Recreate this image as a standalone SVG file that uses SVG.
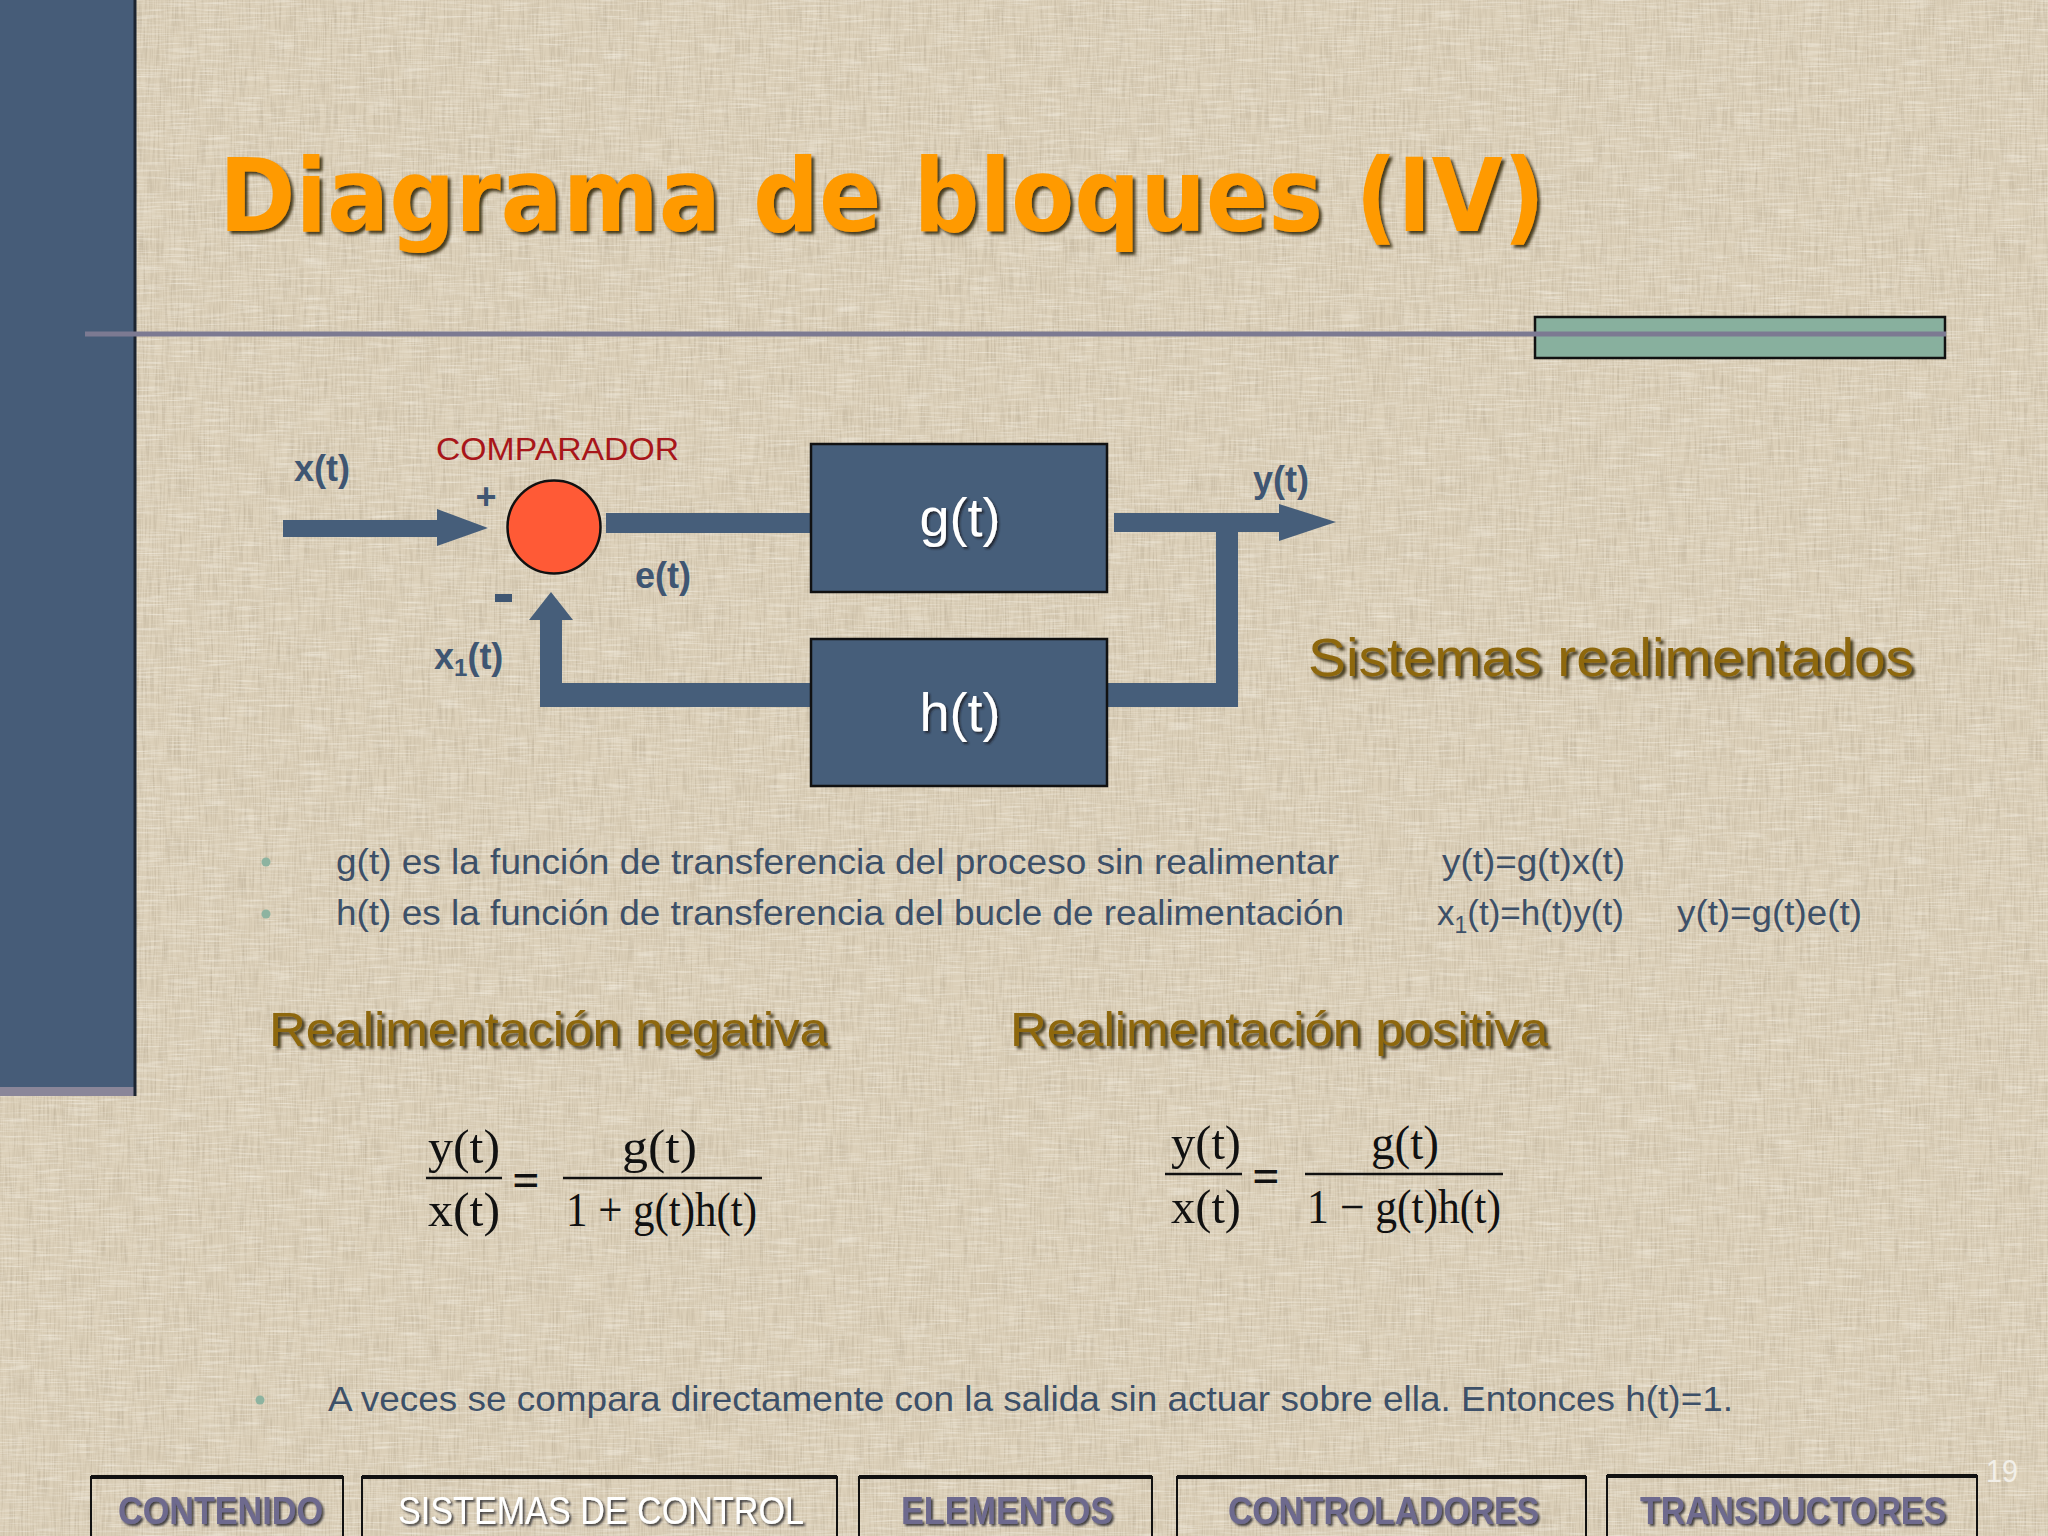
<svg xmlns="http://www.w3.org/2000/svg" width="2048" height="1536" viewBox="0 0 2048 1536">
<defs>
<style>
.sans{font-family:"Liberation Sans",Arial,sans-serif}
.serif{font-family:"Liberation Serif","Times New Roman",serif}
.lbl{font-family:"Liberation Sans",Arial,sans-serif;font-weight:bold;font-size:36px;fill:#3F5672}
.blk{fill:#465E7A;stroke:#111;stroke-width:2.5}
.blktxt{font-family:"Liberation Sans",Arial,sans-serif;font-size:54px;fill:#fff;text-anchor:middle}
.body{font-family:"Liberation Sans",Arial,sans-serif;font-size:35px;fill:#3D5068}
.head{font-family:"Liberation Sans",Arial,sans-serif;fill:#8E6710}
.nav{fill:none;stroke:#111;stroke-width:2}
.navtop{stroke:#111;stroke-width:4}
.navtxt{font-family:"Liberation Sans",Arial,sans-serif;font-weight:bold;font-size:38px;fill:#6E6A8E}
.eq{font-family:"Liberation Serif","Times New Roman",serif;font-size:48px;fill:#111}
.bar{stroke:#111;stroke-width:2.5}
.dot{fill:#8DB3A0}
.conn{fill:#465E7A}
</style>
<filter id="tex1" x="0" y="0" width="100%" height="100%">
<feTurbulence type="fractalNoise" baseFrequency="0.55 0.03" numOctaves="2" seed="4"/>
<feColorMatrix type="matrix" values="0 0 0 0 0.45 0 0 0 0 0.38 0 0 0 0 0.27 1.1 0 0 0 -0.45"/>
</filter>
<filter id="tex2" x="0" y="0" width="100%" height="100%">
<feTurbulence type="fractalNoise" baseFrequency="0.03 0.55" numOctaves="2" seed="9"/>
<feColorMatrix type="matrix" values="0 0 0 0 0.98 0 0 0 0 0.96 0 0 0 0 0.9 1.1 0 0 0 -0.5"/>
</filter>
<filter id="sh" x="-5%" y="-20%" width="110%" height="140%">
<feDropShadow dx="3" dy="3" stdDeviation="1.5" flood-color="#2a1c00" flood-opacity="0.85"/>
</filter>
<filter id="shs" x="-5%" y="-20%" width="110%" height="140%">
<feDropShadow dx="2" dy="2" stdDeviation="1.2" flood-color="#1a1a22" flood-opacity="0.8"/>
</filter>
</defs>

<!-- background -->
<rect width="2048" height="1536" fill="#DCD0B9"/>
<rect width="2048" height="1536" filter="url(#tex1)"/>
<rect width="2048" height="1536" filter="url(#tex2)"/>

<!-- left bar -->
<rect x="0" y="0" width="136" height="1087" fill="#465C78"/>
<rect x="0" y="1087" width="136" height="9" fill="#8A8699"/>
<line x1="135" y1="0" x2="135" y2="1096" stroke="#1c2430" stroke-width="3"/>

<!-- green rect and rule -->
<rect x="1535" y="317" width="410" height="41" fill="#88B09E" stroke="#111" stroke-width="2.5"/>
<line x1="85" y1="334" x2="1946" y2="334" stroke="#7C7A92" stroke-width="5"/>

<!-- title -->
<text x="219" y="231" font-family="'DejaVu Sans',Verdana,sans-serif" font-weight="bold" font-size="102" fill="#FF9A00" filter="url(#sh)" textLength="1326" lengthAdjust="spacingAndGlyphs">Diagrama de bloques (IV)</text>

<!-- connectors -->
<g id="connectors" class="conn">
<path d="M283 520 H437 V509 L488 528 L437 546 V537 H283 Z"/>
<rect x="606" y="513" width="206" height="20"/>
<path d="M1114 513 H1279 V504 L1336 522 L1279 541 V532 H1238 V707 H1107 V683 H1216 V532 H1114 Z"/>
<path d="M811 683 V707 H540 V620 H529 L551 592 L573 620 H562 V683 Z"/>
</g>

<!-- comparator -->
<g id="comparador">
<circle cx="554" cy="527" r="46.5" fill="#FF5A36" stroke="#111" stroke-width="2.5"/>
<text x="436" y="460" class="sans" font-size="32" fill="#A8161A" textLength="243" lengthAdjust="spacingAndGlyphs">COMPARADOR</text>
<text x="486" y="509" class="lbl" font-size="44" text-anchor="middle">+</text>
<rect x="495" y="594" width="17" height="8" fill="#3F5672"/>
</g>

<g id="g-block">
<rect x="811" y="444" width="296" height="148" class="blk"/>
<text x="960" y="536" class="blktxt" filter="url(#shs)">g(t)</text>
</g>
<g id="h-block">
<rect x="811" y="639" width="296" height="147" class="blk"/>
<text x="960" y="731" class="blktxt" filter="url(#shs)">h(t)</text>
</g>

<!-- signal labels -->
<g id="labels">
<text x="294" y="481" class="lbl">x(t)</text>
<text x="635" y="588" class="lbl">e(t)</text>
<text x="434" y="669" class="lbl">x<tspan font-size="24" dy="7">1</tspan><tspan dy="-7">(t)</tspan></text>
<text x="1253" y="492" class="lbl">y(t)</text>
</g>

<text x="1308" y="676" class="head" font-size="53" filter="url(#sh)" textLength="606" lengthAdjust="spacingAndGlyphs">Sistemas realimentados</text>

<!-- bullets -->
<circle cx="266" cy="862" r="4.5" class="dot"/>
<circle cx="266" cy="914" r="4.5" class="dot"/>
<text x="336" y="874" class="body" textLength="1003" lengthAdjust="spacingAndGlyphs">g(t) es la función de transferencia del proceso sin realimentar</text>
<text x="336" y="925" class="body" textLength="1008" lengthAdjust="spacingAndGlyphs">h(t) es la función de transferencia del bucle de realimentación</text>
<text x="1442" y="874" class="body" textLength="183" lengthAdjust="spacingAndGlyphs">y(t)=g(t)x(t)</text>
<text x="1437" y="925" class="body" font-size="36">x<tspan font-size="23" dy="8">1</tspan><tspan dy="-8">(t)=h(t)y(t)</tspan></text>
<text x="1677" y="925" class="body" textLength="185" lengthAdjust="spacingAndGlyphs">y(t)=g(t)e(t)</text>

<!-- headings -->
<text x="269" y="1046" class="head" font-size="49" filter="url(#sh)" textLength="559" lengthAdjust="spacingAndGlyphs">Realimentación negativa</text>
<text x="1010" y="1046" class="head" font-size="49" filter="url(#sh)" textLength="538" lengthAdjust="spacingAndGlyphs">Realimentación positiva</text>

<!-- negative formula -->
<g id="formula-neg">
<text x="428" y="1163" class="eq" textLength="72" lengthAdjust="spacingAndGlyphs">y(t)</text>
<line x1="426" y1="1178" x2="502" y2="1178" class="bar"/>
<text x="428" y="1226" class="eq" textLength="72" lengthAdjust="spacingAndGlyphs">x(t)</text>
<text x="526" y="1196" class="eq" text-anchor="middle" font-weight="bold">=</text>
<text x="622" y="1163" class="eq" textLength="75" lengthAdjust="spacingAndGlyphs">g(t)</text>
<line x1="563" y1="1178" x2="762" y2="1178" class="bar"/>
<text x="566" y="1226" class="eq" textLength="191" lengthAdjust="spacingAndGlyphs">1 + g(t)h(t)</text>
</g>

<!-- positive formula -->
<g id="formula-pos">
<text x="1171" y="1159" class="eq" textLength="70" lengthAdjust="spacingAndGlyphs">y(t)</text>
<line x1="1165" y1="1174" x2="1242" y2="1174" class="bar"/>
<text x="1171" y="1223" class="eq" textLength="70" lengthAdjust="spacingAndGlyphs">x(t)</text>
<text x="1266" y="1192" class="eq" text-anchor="middle" font-weight="bold">=</text>
<text x="1371" y="1159" class="eq" textLength="68" lengthAdjust="spacingAndGlyphs">g(t)</text>
<line x1="1305" y1="1174" x2="1503" y2="1174" class="bar"/>
<text x="1307" y="1223" class="eq" textLength="194" lengthAdjust="spacingAndGlyphs">1 − g(t)h(t)</text>
</g>

<!-- third bullet -->
<circle cx="260" cy="1400" r="4.5" class="dot"/>
<text x="328" y="1411" class="body" textLength="1405" lengthAdjust="spacingAndGlyphs">A veces se compara directamente con la salida sin actuar sobre ella. Entonces h(t)=1.</text>

<!-- nav buttons -->
<g id="nav-contenido">
<path d="M91 1540 V1477 H343 V1540" class="nav"/><line x1="91" y1="1477" x2="343" y2="1477" class="navtop"/>
<text x="118" y="1524" class="navtxt" filter="url(#shs)" textLength="205" lengthAdjust="spacingAndGlyphs">CONTENIDO</text>
</g>
<g id="nav-sistemas">
<path d="M362 1540 V1477 H837 V1540" class="nav"/><line x1="362" y1="1477" x2="837" y2="1477" class="navtop"/>
<text x="398" y="1524" class="navtxt" style="fill:#fff;font-weight:normal" filter="url(#shs)" textLength="406" lengthAdjust="spacingAndGlyphs">SISTEMAS DE CONTROL</text>
</g>
<g id="nav-elementos">
<path d="M859 1540 V1477 H1152 V1540" class="nav"/><line x1="859" y1="1477" x2="1152" y2="1477" class="navtop"/>
<text x="901" y="1524" class="navtxt" filter="url(#shs)" textLength="212" lengthAdjust="spacingAndGlyphs">ELEMENTOS</text>
</g>
<g id="nav-controladores">
<path d="M1177 1540 V1477 H1586 V1540" class="nav"/><line x1="1177" y1="1477" x2="1586" y2="1477" class="navtop"/>
<text x="1228" y="1524" class="navtxt" filter="url(#shs)" textLength="311" lengthAdjust="spacingAndGlyphs">CONTROLADORES</text>
</g>
<g id="nav-transductores">
<path d="M1607 1540 V1476 H1977 V1540" class="nav"/><line x1="1607" y1="1476" x2="1977" y2="1476" class="navtop"/>
<text x="1640" y="1524" class="navtxt" filter="url(#shs)" textLength="306" lengthAdjust="spacingAndGlyphs">TRANSDUCTORES</text>
</g>

<text x="1986" y="1482" class="sans" font-size="32" fill="#F2EFE8" textLength="32" lengthAdjust="spacingAndGlyphs">19</text>
</svg>
